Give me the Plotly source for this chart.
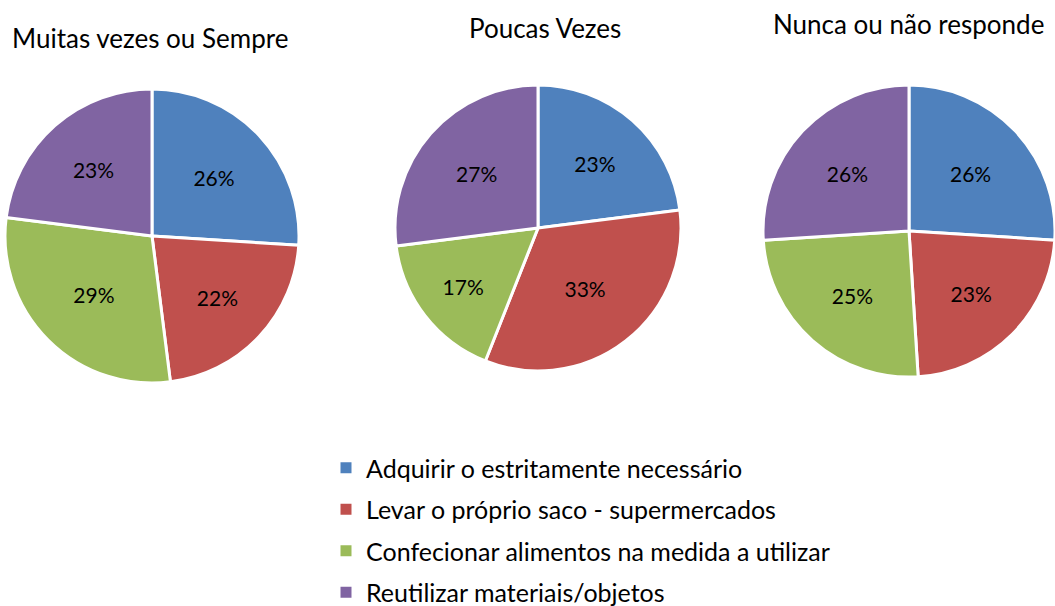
import plotly.graph_objects as go

categories = ["Adquirir o estritamente necessário",
              "Levar o próprio saco - supermercados",
              "Confecionar alimentos na medida a utilizar",
              "Reutilizar materiais/objetos"]
colors = ["#4F81BD", "#C0504D", "#9BBB59", "#8064A2"]

titles = ["Muitas vezes ou Sempre", "Poucas Vezes", "Nunca ou não responde"]
vals_muitas = [26, 22, 29, 23]
vals_poucas = [23, 33, 17, 27]
vals_nunca = [26, 23, 25, 26]
series = [vals_muitas, vals_poucas, vals_nunca]

W, H = 1055, 606
FONT = "Lato"

# pie boxes in pixels (left, top, right, bottom)
boxes = [(5, 89, 299, 383), (395, 85, 681, 371), (763, 83, 1055, 379)]
title_pos = [(150, 38), (545, 28), (908, 24)]

fig = go.Figure()
for vals, (l, t, r, b) in zip(series, boxes):
    fig.add_trace(go.Pie(
        labels=categories, values=vals, sort=False, direction="clockwise",
        rotation=0, marker=dict(colors=colors, line=dict(color="white", width=3)),
        texttemplate="%{value}%", textposition="inside", insidetextorientation="horizontal",
        textfont=dict(family=FONT, size=21, color="black"),
        domain=dict(x=[l / W, r / W], y=[1 - b / H, 1 - t / H]),
        showlegend=False, hoverinfo="label+value"))

for i, (c, col) in enumerate(zip(categories, colors)):
    fig.add_trace(go.Scatter(x=[None], y=[None], mode="markers", name=c,
                             legendgroup=str(i),
                             marker=dict(symbol="square", size=11, color=col)))

for ttl, (x, y) in zip(titles, title_pos):
    fig.add_annotation(text=ttl, x=x / W, y=1 - y / H, xref="paper", yref="paper",
                       showarrow=False, xanchor="center", yanchor="middle",
                       font=dict(family=FONT, size=26, color="black"))

fig.update_layout(
    width=W, height=H, margin=dict(l=0, r=0, t=0, b=0, autoexpand=False),
    paper_bgcolor="white", plot_bgcolor="white",
    xaxis=dict(visible=False, domain=[0, 0.001]), yaxis=dict(visible=False, domain=[0, 0.001]),
    legend=dict(x=326 / W, y=1 - 445 / H, xanchor="left", yanchor="top",
                font=dict(family=FONT, size=25, color="black"), tracegroupgap=6,
                itemclick=False, itemdoubleclick=False),
    font=dict(family=FONT),
)

fig.write_html("out.html", config={"displayModeBar": False},
               post_script="document.body.style.margin='0';")
